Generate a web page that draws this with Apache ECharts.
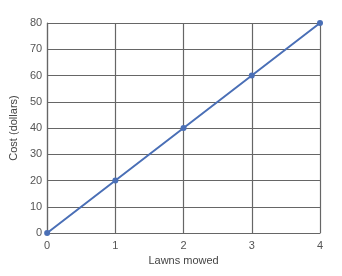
<!DOCTYPE html>
<html><head><meta charset="utf-8">
<script src="https://cdn.jsdelivr.net/npm/echarts@6/dist/echarts.min.js"></script>
<style>html,body{margin:0;padding:0;background:#fff}#c{width:342px;height:276px}</style>
</head><body><div id="c"></div>
<script>
const lawns = [0, 1, 2, 3, 4];
const cost = [0, 20, 40, 60, 80];
const xName = 'Lawns mowed';
const yName = 'Cost (dollars)';
const chart = echarts.init(document.getElementById('c'), null, {renderer: 'canvas'});
const axisColor = '#666';
const labelColor = '#555';
chart.setOption({
  animation: false,
  grid: {left: 44, right: 22, top: 23, bottom: 43, containLabel: false},
  xAxis: {
    type: 'value', min: 0, max: 4, interval: 1,
    name: xName, nameLocation: 'middle', nameGap: 21,
    nameTextStyle: {color: '#444', fontSize: 11, fontFamily: 'Liberation Sans'},
    axisLine: {show: true, lineStyle: {color: axisColor, width: 1.2}},
    axisTick: {show: false},
    splitLine: {show: true, lineStyle: {color: axisColor, width: 1.2}},
    axisLabel: {color: labelColor, fontSize: 11, margin: 7, fontFamily: 'Liberation Sans'}
  },
  yAxis: {
    type: 'value', min: 0, max: 80, interval: 10,
    name: yName, nameLocation: 'middle', nameGap: 28, nameRotate: 90,
    nameTextStyle: {color: '#444', fontSize: 11, fontFamily: 'Liberation Sans'},
    axisLine: {show: true, lineStyle: {color: axisColor, width: 1.2}},
    axisTick: {show: false},
    splitLine: {show: true, lineStyle: {color: axisColor, width: 1.2}},
    axisLabel: {color: labelColor, fontSize: 11, margin: 5, fontFamily: 'Liberation Sans'}
  },
  series: [{
    type: 'line',
    data: lawns.map((x, i) => [x, cost[i]]),
    symbol: 'circle', symbolSize: 6,
    lineStyle: {color: '#4a6fb6', width: 2},
    itemStyle: {color: '#4a6fb6'}
  }]
});
</script></body></html>
